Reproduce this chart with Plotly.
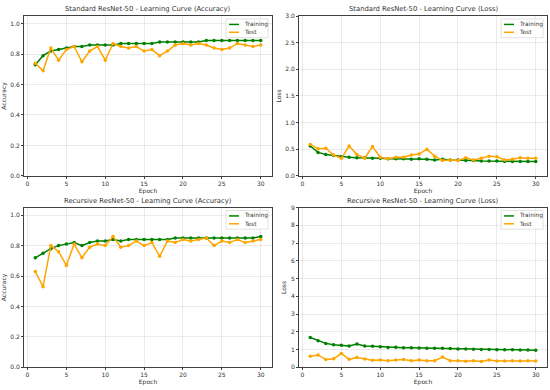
import plotly.graph_objects as go

epochs = list(range(1, 31))

std_acc_train = [0.73, 0.79, 0.82, 0.83, 0.84, 0.85, 0.85, 0.86, 0.86, 0.86,
                 0.86, 0.87, 0.87, 0.87, 0.87, 0.87, 0.88, 0.88, 0.88, 0.88,
                 0.88, 0.88, 0.89, 0.89, 0.89, 0.89, 0.89, 0.89, 0.89, 0.89]
std_acc_test = [0.74, 0.69, 0.84, 0.76, 0.83, 0.85, 0.75, 0.82, 0.85, 0.76,
                0.87, 0.85, 0.84, 0.85, 0.82, 0.83, 0.79, 0.82, 0.86, 0.87,
                0.86, 0.87, 0.86, 0.84, 0.83, 0.84, 0.87, 0.86, 0.85, 0.86]
std_loss_train = [0.56, 0.44, 0.40, 0.38, 0.36, 0.35, 0.34, 0.34, 0.33, 0.33,
                  0.32, 0.32, 0.32, 0.31, 0.32, 0.31, 0.30, 0.31, 0.30, 0.30,
                  0.29, 0.29, 0.28, 0.28, 0.28, 0.27, 0.27, 0.27, 0.27, 0.27]
std_loss_test = [0.59, 0.51, 0.52, 0.39, 0.33, 0.56, 0.40, 0.33, 0.55, 0.35,
                 0.32, 0.35, 0.35, 0.39, 0.41, 0.50, 0.37, 0.29, 0.30, 0.29,
                 0.34, 0.30, 0.33, 0.37, 0.36, 0.30, 0.31, 0.34, 0.33, 0.33]
rec_acc_train = [0.72, 0.75, 0.78, 0.80, 0.81, 0.82, 0.80, 0.82, 0.83, 0.83,
                 0.84, 0.83, 0.84, 0.84, 0.84, 0.84, 0.84, 0.84, 0.85, 0.85,
                 0.85, 0.85, 0.85, 0.85, 0.85, 0.85, 0.85, 0.85, 0.85, 0.86]
rec_acc_test = [0.63, 0.53, 0.80, 0.76, 0.67, 0.81, 0.72, 0.79, 0.81, 0.80,
                0.86, 0.79, 0.80, 0.83, 0.80, 0.82, 0.73, 0.83, 0.82, 0.84,
                0.83, 0.84, 0.85, 0.80, 0.83, 0.82, 0.84, 0.82, 0.83, 0.84]
rec_loss_train = [1.68, 1.50, 1.35, 1.27, 1.24, 1.20, 1.32, 1.21, 1.19, 1.16,
                  1.12, 1.13, 1.10, 1.10, 1.09, 1.08, 1.07, 1.07, 1.06, 1.04,
                  1.03, 1.02, 1.01, 1.00, 0.99, 0.99, 0.99, 0.98, 0.98, 0.97]
rec_loss_test = [0.62, 0.70, 0.44, 0.48, 0.78, 0.45, 0.56, 0.47, 0.40, 0.42,
                 0.37, 0.41, 0.44, 0.37, 0.42, 0.37, 0.37, 0.58, 0.37, 0.37,
                 0.34, 0.37, 0.33, 0.42, 0.36, 0.36, 0.37, 0.36, 0.37, 0.36]

titles = ["Standard ResNet-50 - Learning Curve (Accuracy)",
          "Standard ResNet-50 - Learning Curve (Loss)",
          "Recursive ResNet-50 - Learning Curve (Accuracy)",
          "Recursive ResNet-50 - Learning Curve (Loss)"]
ylabels = ["Accuracy", "Loss", "Accuracy", "Loss"]
panels = [(std_acc_train, std_acc_test), (std_loss_train, std_loss_test),
          (rec_acc_train, rec_acc_test), (rec_loss_train, rec_loss_test)]

W, H = 550, 390
xd = [(24 / W, 272 / W), (299 / W, 547 / W)]
yd = [((H - 175) / H, (H - 12.3) / H), ((H - 370) / H, (H - 207.3) / H)]
yranges = [[0, 1.05], [0, 3.0], [0, 1.05], [0, 9]]
ydtick = [0.2, 0.5, 0.2, 1]
yfmt = [".1f", ".1f", ".1f", "d"]

GREEN = "#008000"
ORANGE = "#FFA500"
FONT = "DejaVu Sans"

fig = go.Figure()
annotations = []
for i, (tr, te) in enumerate(panels):
    r, c = divmod(i, 2)
    n = "" if i == 0 else str(i + 1)
    xa, ya = "x" + n, "y" + n
    fig.add_trace(go.Scatter(x=epochs, y=tr, mode="lines+markers", name="Training",
                             line=dict(color=GREEN, width=1.5),
                             marker=dict(color=GREEN, size=3.5),
                             xaxis=xa, yaxis=ya, showlegend=False))
    fig.add_trace(go.Scatter(x=epochs, y=te, mode="lines+markers", name="Test",
                             line=dict(color=ORANGE, width=1.5),
                             marker=dict(color=ORANGE, size=3.5),
                             xaxis=xa, yaxis=ya, showlegend=False))
    common = dict(showline=True, linecolor="#404040", linewidth=0.8, mirror=True,
                  showgrid=True, gridcolor="rgba(0,0,0,0.08)", gridwidth=0.6,
                  ticks="outside", ticklen=2, tickwidth=0.6, tickcolor="#404040",
                  tickfont=dict(family=FONT, size=6, color="#333"), zeroline=False)
    fig.layout["xaxis" + n] = dict(domain=xd[c], anchor=ya, range=[-0.45, 31.45],
                                   tickmode="array", tickvals=[0, 5, 10, 15, 20, 25, 30],
                                   title=dict(text="Epoch", font=dict(family=FONT, size=6, color="#333"),
                                              standoff=2), **common)
    fig.layout["yaxis" + n] = dict(domain=yd[r], anchor=xa, range=yranges[i],
                                   dtick=ydtick[i], tick0=0, tickformat=yfmt[i],
                                   title=dict(text=ylabels[i], font=dict(family=FONT, size=6, color="#333"),
                                              standoff=3), **common)
    annotations.append(dict(text=titles[i], x=(xd[c][0] + xd[c][1]) / 2, y=yd[r][1],
                            xref="paper", yref="paper", xanchor="center", yanchor="bottom",
                            yshift=1, showarrow=False,
                            font=dict(family=FONT, size=6.8, color="#333")))
    x1 = xd[c][1] - 4 / W
    x0 = x1 - 42 / W
    y1 = yd[r][1] - 3 / H
    y0 = y1 - 19 / H
    fig.add_shape(type="rect", xref="paper", yref="paper", x0=x0, x1=x1, y0=y0, y1=y1,
                  line=dict(color="#cccccc", width=0.6), fillcolor="rgba(255,255,255,0.85)")
    for k, (lab, colr) in enumerate([("Training", GREEN), ("Test", ORANGE)]):
        yy = y1 - (5.5 + 8 * k) / H
        fig.add_shape(type="line", xref="paper", yref="paper",
                      x0=x0 + 3 / W, x1=x0 + 13 / W, y0=yy, y1=yy,
                      line=dict(color=colr, width=1.5))
        annotations.append(dict(text=lab, x=x0 + 16 / W, y=yy, xref="paper", yref="paper",
                                xanchor="left", yanchor="middle", showarrow=False,
                                font=dict(family=FONT, size=5.8, color="#333")))

fig.update_layout(width=W, height=H, margin=dict(l=0, r=0, t=0, b=0),
                  paper_bgcolor="white", plot_bgcolor="white",
                  annotations=annotations, showlegend=False)

fig.write_html("out.html", config={"displayModeBar": False},
               post_script="document.body.style.margin='0';document.body.style.overflow='hidden';")
